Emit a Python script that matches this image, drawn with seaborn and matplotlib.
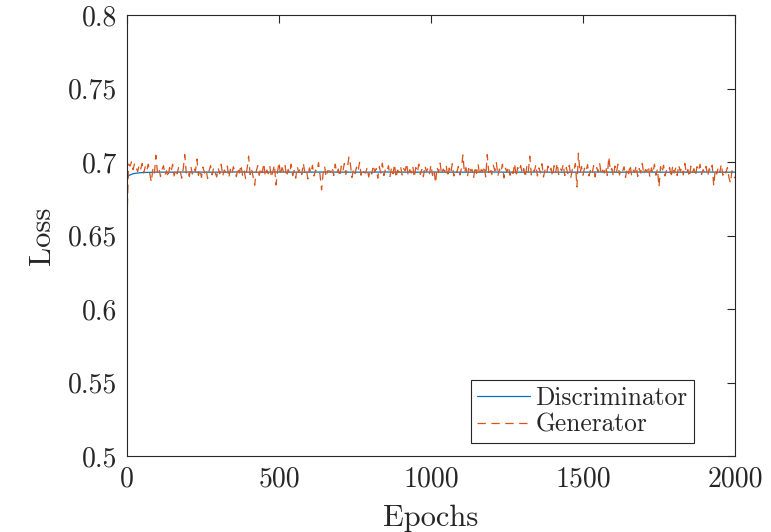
import numpy as np
import pandas as pd
import matplotlib
matplotlib.use("Agg")
import matplotlib.pyplot as plt
from matplotlib.ticker import FixedLocator, FixedFormatter
import seaborn as sns

# ---------------- data ----------------
gen_epochs = list(range(0, 2001, 5))
generator = [
    0.6600, 0.6985, 0.6972, 0.7001, 0.6948, 0.6990, 0.6962, 0.6935, 0.6978, 0.6951, 0.6990, 0.6925, 0.6968, 0.6941, 0.6985, 0.6920, 0.6864, 0.6950, 0.6918, 0.7046,
    0.6932, 0.6960, 0.6901, 0.6948, 0.6975, 0.6912, 0.6940, 0.6895, 0.6962, 0.6930, 0.6985, 0.6905, 0.6950, 0.6920, 0.6968, 0.6938, 0.6890, 0.6955, 0.7050, 0.6925,
    0.6945, 0.6902, 0.6970, 0.6918, 0.6958, 0.6935, 0.7020, 0.6908, 0.6948, 0.6895, 0.6965, 0.6925, 0.6952, 0.6888, 0.6940, 0.6975, 0.6912, 0.6960, 0.6930, 0.6898,
    0.6958, 0.6920, 0.6985, 0.6905, 0.6945, 0.6930, 0.6972, 0.6892, 0.6950, 0.6918, 0.6968, 0.6935, 0.6900, 0.6962, 0.6925, 0.6980, 0.6910, 0.6945, 0.6888, 0.6955,
    0.7040, 0.6915, 0.6952, 0.6898, 0.6842, 0.6935, 0.6975, 0.6910, 0.6960, 0.6928, 0.6990, 0.6902, 0.6945, 0.6920, 0.6968, 0.6895, 0.6938, 0.6980, 0.6843, 0.6930,
    0.6998, 0.6912, 0.6962, 0.6935, 0.6975, 0.6900, 0.6950, 0.6922, 0.6985, 0.6908, 0.6942, 0.6890, 0.6968, 0.6930, 0.6955, 0.6915, 0.6992, 0.6928, 0.6948, 0.6885,
    0.6960, 0.6925, 0.6978, 0.6905, 0.6945, 0.6935, 0.6995, 0.6912, 0.6810, 0.6920, 0.6970, 0.6898, 0.6940, 0.6940, 0.6930, 0.6965, 0.6908, 0.6985, 0.6925, 0.6952,
    0.6900, 0.6972, 0.6938, 0.6990, 0.6915, 0.6958, 0.7035, 0.6982, 0.6895, 0.6950, 0.6920, 0.6965, 0.6935, 0.6998, 0.6910, 0.6948, 0.6928, 0.6925, 0.6962, 0.6898,
    0.6945, 0.6918, 0.6978, 0.6932, 0.6955, 0.6890, 0.6968, 0.6925, 0.6992, 0.6908, 0.6950, 0.6935, 0.6975, 0.6902, 0.6960, 0.6920, 0.6985, 0.6892, 0.6945, 0.6930,
    0.6968, 0.6912, 0.6955, 0.6938, 0.6990, 0.6905, 0.6948, 0.6925, 0.6972, 0.6895, 0.6962, 0.6930, 0.6985, 0.6915, 0.6950, 0.6900, 0.6975, 0.6935, 0.6958, 0.6920,
    0.6980, 0.6908, 0.6945, 0.6857, 0.6965, 0.6928, 0.6992, 0.6915, 0.6952, 0.6935, 0.6978, 0.6898, 0.6958, 0.6922, 0.6988, 0.6905, 0.6945, 0.6930, 0.6970, 0.6912,
    0.6955, 0.7048, 0.6925, 0.6962, 0.6900, 0.6975, 0.6938, 0.6950, 0.6890, 0.6968, 0.6922, 0.6985, 0.6910, 0.6948, 0.6935, 0.6972, 0.6898, 0.7050, 0.6928, 0.6960,
    0.6915, 0.6978, 0.6940, 0.6995, 0.6905, 0.6952, 0.6928, 0.6985, 0.6892, 0.6958, 0.6932, 0.6970, 0.6910, 0.6948, 0.6922, 0.6990, 0.6900, 0.6962, 0.6938, 0.6975,
    0.6920, 0.6955, 0.6895, 0.6968, 0.6930, 0.7040, 0.6912, 0.6950, 0.6935, 0.6982, 0.6905, 0.6960, 0.6925, 0.6988, 0.6898, 0.6945, 0.6918, 0.6972, 0.6935, 0.6958,
    0.6902, 0.6975, 0.6928, 0.6992, 0.6915, 0.6955, 0.6940, 0.6985, 0.6908, 0.6962, 0.6922, 0.6978, 0.6895, 0.6950, 0.6935, 0.6990, 0.6830, 0.7060, 0.6925, 0.6968,
    0.6910, 0.6958, 0.6935, 0.6982, 0.6905, 0.6950, 0.6922, 0.6975, 0.6898, 0.6962, 0.6930, 0.6988, 0.6915, 0.6945, 0.6925, 0.6970, 0.6908, 0.7035, 0.6938, 0.6955,
    0.6900, 0.6972, 0.6928, 0.6985, 0.6912, 0.6950, 0.6935, 0.6968, 0.6895, 0.6958, 0.6920, 0.6980, 0.6908, 0.6945, 0.6930, 0.6975, 0.6902, 0.6955, 0.6925, 0.6990,
    0.6915, 0.6948, 0.6935, 0.6972, 0.6898, 0.6960, 0.6922, 0.6985, 0.6910, 0.6952, 0.6830, 0.6968, 0.6928, 0.6978, 0.6905, 0.6945, 0.6932, 0.6962, 0.6895, 0.6975,
    0.6925, 0.6958, 0.6908, 0.6980, 0.6935, 0.6965, 0.6912, 0.6990, 0.6920, 0.6950, 0.6898, 0.6972, 0.6930, 0.6955, 0.6905, 0.6968, 0.6940, 0.6985, 0.6915, 0.6948,
    0.6928, 0.6970, 0.6902, 0.6955, 0.6935, 0.6978, 0.6837, 0.6950, 0.6918, 0.6965, 0.6930, 0.6985, 0.6910, 0.6945, 0.6925, 0.6962, 0.6895, 0.6857, 0.6940, 0.6915,
    0.6890,
]

disc_epochs = [0, 5, 10, 20, 30, 40, 50, 60, 80, 100,
               150, 200, 250, 300, 350, 400, 450, 500, 550, 600,
               650, 700, 750, 800, 850, 900, 950, 1000, 1050, 1100,
               1150, 1200, 1250, 1300, 1350, 1400, 1450, 1500, 1550, 1600,
               1650, 1700, 1750, 1800, 1850, 1900, 1950, 2000]
discriminator = [0.6890, 0.6905, 0.6912, 0.6920, 0.6924, 0.6926, 0.6928, 0.6929, 0.6930, 0.6931,
                 0.6931, 0.6932, 0.6931, 0.6931, 0.6932, 0.6931, 0.6931, 0.6932, 0.6931, 0.6931,
                 0.6932, 0.6931, 0.6931, 0.6931, 0.6932, 0.6931, 0.6931, 0.6932, 0.6931, 0.6931,
                 0.6931, 0.6932, 0.6931, 0.6931, 0.6932, 0.6931, 0.6931, 0.6931, 0.6932, 0.6931,
                 0.6931, 0.6932, 0.6931, 0.6931, 0.6931, 0.6932, 0.6931, 0.6931]

series_names = ["Discriminator", "Generator"]
x_ticks = [0, 500, 1000, 1500, 2000]
x_tick_labels = ["0", "500", "1000", "1500", "2000"]
y_ticks = [0.5, 0.55, 0.6, 0.65, 0.7, 0.75, 0.8]
y_tick_labels = ["0.5", "0.55", "0.6", "0.65", "0.7", "0.75", "0.8"]
x_label = "Epochs"
y_label = "Loss"

# ---------------- style ----------------
sns.set_style("white")
plt.rcParams["font.family"] = ["cmr10", "DejaVu Serif"]
plt.rcParams["mathtext.fontset"] = "cm"
plt.rcParams["axes.formatter.use_mathtext"] = True
plt.rcParams["lines.scale_dashes"] = False

dark = "#262626"
blue = "#0072BD"
orange = "#D95319"

fig = plt.figure(figsize=(7.71, 5.32), dpi=100)
ax = fig.add_axes([127 / 771, 1 - 456 / 532, 608 / 771, 441 / 532])

df_d = pd.DataFrame({"Epoch": disc_epochs, "Loss": discriminator})
df_g = pd.DataFrame({"Epoch": gen_epochs, "Loss": generator})

sns.lineplot(data=df_d, x="Epoch", y="Loss", ax=ax, color=blue, linewidth=0.9,
             estimator=None, label=series_names[0])
sns.lineplot(data=df_g, x="Epoch", y="Loss", ax=ax, color=orange, linewidth=0.9,
             estimator=None, label=series_names[1], linestyle=(0, (6, 4)))

ax.set_xlim(0, 2000)
ax.set_ylim(0.5, 0.8)
ax.xaxis.set_major_locator(FixedLocator(x_ticks))
ax.xaxis.set_major_formatter(FixedFormatter(x_tick_labels))
ax.yaxis.set_major_locator(FixedLocator(y_ticks))
ax.yaxis.set_major_formatter(FixedFormatter(y_tick_labels))

ax.set_xlabel(x_label, fontsize=22, color=dark, labelpad=9)
ax.set_ylabel(y_label, fontsize=22, color=dark, labelpad=9)

ax.tick_params(axis="both", which="major", direction="in", length=6, width=0.8,
               colors=dark, labelsize=20, top=True, right=True, pad=7)
for s in ax.spines.values():
    s.set_visible(True)
    s.set_color(dark)
    s.set_linewidth(0.8)

leg = ax.legend(loc="lower right", bbox_to_anchor=((694 - 127) / 608, (456 - 443) / 441),
                fontsize=18.3, frameon=True, fancybox=False, framealpha=1,
                edgecolor=dark, borderpad=0.25, labelspacing=0.12, handlelength=2.1,
                handletextpad=0.2, borderaxespad=0)
leg.get_frame().set_linewidth(0.8)
for t in leg.get_texts():
    t.set_color(dark)

fig.savefig("out.png", dpi=100)
